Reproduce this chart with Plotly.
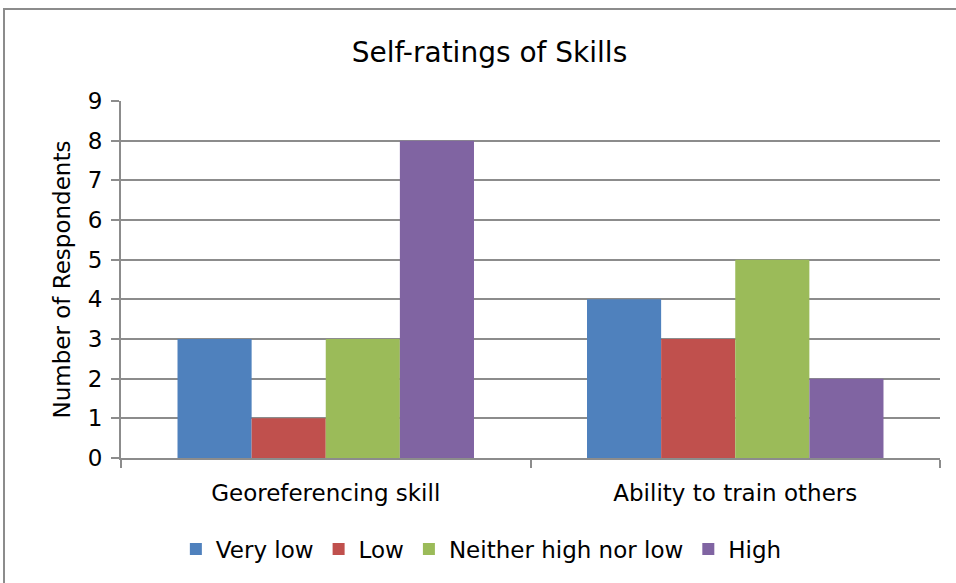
import plotly.graph_objects as go

categories = ["Georeferencing skill", "Ability to train others"]
series_names = ["Very low", "Low", "Neither high nor low", "High"]
very_low = [3, 4]
low = [1, 3]
neither = [3, 5]
high = [8, 2]
colors = ["#4F81BD", "#C0504D", "#9BBB59", "#8064A2"]
y_ticks = list(range(0, 10))

FONT = "DejaVu Sans"
W, H = 956, 583
L, R, T, B = 121, 16, 101, 125
PW, PH = W - L - R, H - T - B


def px_x(p):
    return (p - L) / PW


def px_y(p):
    return (H - B - p) / PH


fig = go.Figure()
for name, vals, col in zip(series_names, [very_low, low, neither, high], colors):
    fig.add_trace(go.Bar(x=categories, y=vals, name=name, marker=dict(color=col, line=dict(width=0))))

fig.update_layout(
    width=W, height=H,
    paper_bgcolor="white", plot_bgcolor="white",
    margin=dict(l=L, r=R, t=T, b=B, pad=0),
    barmode="group", bargap=0.276, bargroupgap=0,
    font=dict(family=FONT, size=23, color="black"),
    title=dict(text="Self-ratings of Skills", x=489.5 / W, xanchor="center", xref="container",
               y=1 - 52 / H, yanchor="middle",
               font=dict(family=FONT, size=28, color="black")),
    showlegend=True,
    legend=dict(orientation="h", x=0.44, xanchor="center", y=px_y(549), yanchor="middle",
                font=dict(family=FONT, size=23), traceorder="normal", itemwidth=30),
    xaxis=dict(type="category", showline=True, linecolor="#8C8C8C", linewidth=2,
               ticks="outside", tickson="boundaries", ticklen=8, tickcolor="#8C8C8C", tickwidth=2,
               showgrid=False, tickfont=dict(size=23), ticklabelstandoff=13),
    yaxis=dict(range=[0, 9], tickvals=y_ticks, showline=True, linecolor="#8C8C8C", linewidth=2,
               ticks="outside", ticklen=8, tickcolor="#8C8C8C", tickwidth=2,
               showgrid=True, gridcolor="#8C8C8C", gridwidth=1.5, zeroline=False,
               title=dict(text="Number of Respondents", font=dict(size=23), standoff=11),
               tickfont=dict(size=23), ticklabelstandoff=4),
    shapes=[dict(type="rect", xref="paper", yref="paper",
                 x0=px_x(4), x1=px_x(980), y0=px_y(600), y1=px_y(9),
                 line=dict(color="#8C8C8C", width=2), fillcolor="rgba(0,0,0,0)")],
)
fig.write_html("out.html", config={"displayModeBar": False},
               post_script="document.body.style.margin='0';")
